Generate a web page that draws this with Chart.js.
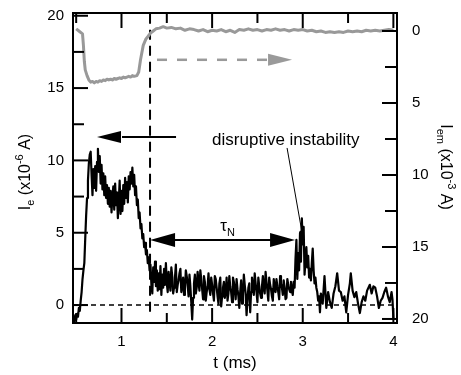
<!DOCTYPE html>
<html><head><meta charset="utf-8">
<script src="https://cdn.jsdelivr.net/npm/chart.js@4"></script>
<style>html,body{margin:0;padding:0;background:#fff;}#wrap{width:461px;height:375px;}</style>
</head><body><div id="wrap"><canvas id="c" width="461" height="375"></canvas></div>
<script>
// ---- data: [t (ms), I_e (x10^-6 A)] ----
const ieSeries = [
[0.47,-0.9],[0.48,-1.1],[0.49,-0.7],[0.50,-1.0],[0.51,-0.6],[0.52,-0.8],[0.53,-0.2],[0.54,-0.4],[0.55,0.3],[0.56,0.9],
[0.57,1.8],[0.58,2.4],[0.59,2.9],[0.60,4.6],[0.61,6.2],[0.62,7.4],[0.63,8.6],[0.64,9.8],[0.65,10.4],[0.66,10.6],
[0.67,9.0],[0.68,7.6],[0.69,9.4],[0.70,8.1],[0.71,9.6],[0.72,7.9],[0.73,9.9],[0.74,10.8],[0.75,9.2],[0.76,10.3],
[0.77,8.4],[0.78,9.7],[0.79,8.0],[0.80,9.1],[0.81,7.6],[0.82,8.9],[0.83,7.4],[0.84,8.3],[0.85,7.0],[0.86,8.1],
[0.87,6.8],[0.88,7.9],[0.89,6.4],[0.90,7.5],[0.91,8.2],[0.92,6.6],[0.93,8.4],[0.94,6.9],[0.95,7.8],[0.96,6.0],
[0.97,7.2],[0.98,8.6],[0.99,6.3],[1.00,7.9],[1.01,6.5],[1.02,8.3],[1.03,7.0],[1.04,8.8],[1.05,7.4],[1.06,8.5],
[1.07,7.1],[1.08,8.9],[1.09,8.0],[1.10,9.2],[1.11,8.4],[1.12,9.5],[1.13,8.2],[1.14,9.0],[1.15,7.6],[1.16,8.2],
[1.17,6.9],[1.18,7.3],[1.19,6.0],[1.20,6.4],[1.21,5.3],[1.22,5.6],[1.23,4.6],[1.24,4.9],[1.25,4.0],[1.26,4.3],
[1.27,3.5],[1.28,3.8],[1.29,2.9],[1.30,3.3],[1.31,2.4],[1.32,2.8],[1.33,1.4],[1.34,0.8],[1.35,2.6],[1.36,1.6],
[1.37,3.0],[1.38,1.3],[1.39,2.4],[1.40,1.0],[1.41,2.2],[1.42,1.1],[1.43,2.7],[1.44,0.7],[1.45,2.1],[1.46,1.2],
[1.47,2.5],[1.48,1.4],[1.49,2.9],[1.50,1.5],[1.51,0.9],[1.52,2.3],[1.53,1.6],[1.54,1.0],[1.55,2.6],[1.56,2.0],
[1.57,0.8],[1.58,1.2],[1.59,1.9],[1.60,2.8],[1.61,0.9],[1.62,1.4],[1.63,1.7],[1.64,2.2],[1.65,2.5],[1.66,0.9],
[1.67,1.3],[1.68,1.9],[1.69,0.7],[1.70,1.1],[1.71,2.4],[1.72,2.0],[1.73,1.4],[1.74,0.6],[1.75,2.1],[1.76,1.3],
[1.77,0.2],[1.78,-1.0],[1.79,0.5],[1.80,1.5],[1.81,2.1],[1.82,0.8],[1.83,1.2],[1.84,2.3],[1.85,1.6],[1.86,1.0],
[1.87,2.4],[1.88,1.8],[1.89,1.1],[1.90,0.4],[1.91,2.0],[1.92,1.6],[1.93,0.3],[1.94,0.9],[1.95,1.3],[1.96,2.2],
[1.97,1.1],[1.98,0.7],[1.99,1.9],[2.00,1.4],[2.01,0.8],[2.02,0.3],[2.03,2.0],[2.04,1.8],[2.05,1.2],[2.06,0.6],
[2.07,0.1],[2.08,1.5],[2.09,1.9],[2.10,-0.1],[2.11,0.6],[2.12,1.2],[2.13,1.6],[2.14,0.5],[2.15,0.9],[2.16,1.9],
[2.17,0.3],[2.18,0.8],[2.19,2.0],[2.20,1.3],[2.21,0.9],[2.22,0.2],[2.23,1.9],[2.24,1.6],[2.25,1.0],[2.26,0.4],
[2.27,1.8],[2.28,1.1],[2.29,0.6],[2.30,-0.2],[2.31,0.9],[2.32,1.7],[2.33,0.1],[2.34,0.6],[2.35,2.1],[2.36,1.4],
[2.37,0.8],[2.38,-0.7],[2.39,0.3],[2.40,1.2],[2.41,1.5],[2.42,-0.5],[2.43,0.9],[2.44,1.9],[2.45,1.2],[2.46,0.7],
[2.47,2.2],[2.48,1.5],[2.49,0.9],[2.50,0.2],[2.51,1.9],[2.52,1.3],[2.53,0.8],[2.54,0.5],[2.55,1.3],[2.56,2.0],
[2.57,1.1],[2.58,0.8],[2.59,2.3],[2.60,1.6],[2.61,1.0],[2.62,0.3],[2.63,1.9],[2.64,1.4],[2.65,1.1],[2.66,0.6],
[2.67,0.3],[2.68,1.8],[2.69,1.2],[2.70,0.9],[2.71,1.8],[2.72,1.3],[2.73,0.9],[2.74,0.4],[2.75,2.0],[2.76,1.5],
[2.77,1.2],[2.78,0.7],[2.79,1.7],[2.80,1.2],[2.81,0.4],[2.82,0.5],[2.83,1.8],[2.84,1.4],[2.85,1.1],[2.86,0.9],
[2.87,1.6],[2.88,1.0],[2.89,0.7],[2.90,1.6],[2.91,1.2],[2.92,3.2],[2.93,4.5],[2.94,1.8],[2.95,3.6],[2.96,2.4],
[2.97,5.0],[2.98,3.0],[2.99,6.0],[3.00,4.2],[3.01,5.4],[3.02,2.1],[3.03,3.0],[3.04,4.0],[3.05,2.6],[3.06,3.4],
[3.07,1.9],[3.08,2.5],[3.09,1.7],[3.10,2.9],[3.11,3.9],[3.12,2.4],[3.13,1.5],[3.14,1.9],[3.15,1.2],[3.16,0.9],
[3.17,0.3],[3.18,0.6],[3.19,-0.5],[3.20,0.8],[3.22,0.1],[3.24,2.0],[3.26,-0.2],[3.28,0.9],[3.30,0.2],[3.32,-0.2],
[3.34,0.8],[3.36,1.3],[3.38,2.2],[3.40,1.0],[3.42,0.9],[3.44,0.3],[3.46,0.6],[3.48,-0.5],[3.50,0.7],[3.52,1.5],
[3.53,2.2],[3.55,1.0],[3.57,0.55],[3.59,0.9],[3.61,0.1],[3.63,-0.55],[3.65,0.2],[3.67,0.6],[3.69,0.3],[3.71,1.0],
[3.74,1.4],[3.76,0.8],[3.78,1.3],[3.80,1.2],[3.82,0.6],[3.84,-0.2],[3.86,0.3],[3.88,0.5],[3.90,0.9],[3.92,1.2],
[3.94,0.6],[3.96,0.2],[3.98,0.9],[3.99,0.4],[4.00,-0.9]
];
// ---- data: [t (ms), I_em (x10^-3 A)] ----
const iemSeries = [
[0.50,-0.15],[0.52,-0.05],[0.54,0.05],[0.56,0.15],[0.57,0.2],[0.58,1.0],[0.59,2.1],[0.60,2.7],[0.62,3.1],[0.64,3.4],
[0.66,3.55],[0.68,3.5],[0.70,3.6],[0.72,3.5],[0.74,3.55],[0.76,3.45],[0.78,3.5],[0.80,3.4],[0.82,3.45],[0.84,3.35],
[0.86,3.4],[0.88,3.35],[0.90,3.4],[0.92,3.3],[0.94,3.35],[0.96,3.3],[0.98,3.25],[1.00,3.3],[1.02,3.2],[1.04,3.25],
[1.06,3.2],[1.08,3.15],[1.10,3.2],[1.12,3.1],[1.14,3.15],[1.17,3.1],[1.19,2.85],[1.21,2.0],[1.24,1.0],[1.27,0.55],
[1.29,0.4],[1.32,0.15],[1.35,0.0],[1.38,-0.15],[1.42,-0.2],[1.46,-0.3],[1.50,-0.2],[1.55,-0.25],[1.60,-0.15],[1.65,-0.2],
[1.70,-0.05],[1.75,-0.15],[1.80,-0.1],[1.85,0.0],[1.90,-0.1],[1.95,0.05],[2.00,-0.05],[2.05,0.0],[2.10,-0.1],[2.15,0.05],
[2.20,-0.05],[2.25,0.1],[2.30,-0.1],[2.35,-0.05],[2.40,-0.15],[2.45,-0.05],[2.50,-0.1],[2.55,0.0],[2.60,-0.1],[2.65,-0.05],
[2.70,-0.15],[2.75,-0.05],[2.80,-0.1],[2.85,0.0],[2.90,-0.1],[2.95,-0.05],[3.00,-0.1],[3.05,0.0],[3.10,-0.05],[3.15,0.05],
[3.20,0.0],[3.25,0.1],[3.30,0.05],[3.35,0.1],[3.40,0.05],[3.45,0.1],[3.50,0.0],[3.55,0.05],[3.60,0.0],[3.65,0.05],
[3.70,-0.05],[3.75,0.0],[3.80,-0.05],[3.85,0.0],[3.90,-0.05],[3.95,-0.1],[4.00,-0.05]
];
const xMajor = [1,2,3,4];
const xMinor = [0.5,1.5,2.5,3.5];
const leftMajor = [0,5,10,15,20];
const leftMinor = [2.5,7.5,12.5,17.5];
const rightMajor = [0,5,10,15,20];
const rightMinor = [2.5,7.5,12.5,17.5];
const tMarker = 1.315;   // vertical dashed line (time, ms)
const zeroLevel = 0;

// ---- annotation placement (data coordinates) ----
const ann = {
  blackArrow: {x1:1.602, x2:0.73, y:11.62},
  grayArrow: {x1:1.392, x2:2.882, y2v:2.0},
  tauArrow: {x1:1.315, x2:2.915, y:4.5},
  tau: {x:2.09, y:5.12},
  label: {x:2.0, y:11.07},
  pointer: {x1:2.827, y1:10.86, x2:3.004, y2:4.6}
};

const FONT = "'Liberation Sans', Arial, sans-serif";

function arrowHead(ctx, x1, y1, x2, y2, len, half){
  const ang = Math.atan2(y2-y1, x2-x1);
  const bx = x2 - len*Math.cos(ang), by = y2 - len*Math.sin(ang);
  ctx.beginPath(); ctx.moveTo(x2,y2);
  ctx.lineTo(bx + half*Math.sin(ang), by - half*Math.cos(ang));
  ctx.lineTo(bx - half*Math.sin(ang), by + half*Math.cos(ang));
  ctx.closePath(); ctx.fill();
  return [bx, by];
}
function line(ctx,x1,y1,x2,y2){ctx.beginPath();ctx.moveTo(x1,y1);ctx.lineTo(x2,y2);ctx.stroke();}
function richWidth(ctx, segs){
  let w=0; segs.forEach(s=>{ctx.font=s.s+'px '+FONT; w+=ctx.measureText(s.t).width;}); return w;
}
function richDraw(ctx, segs, u0){
  let u=u0; segs.forEach(s=>{ctx.font=s.s+'px '+FONT; ctx.fillText(s.t,u,s.dy); u+=ctx.measureText(s.t).width;});
}

const decor = {
  id:'decor',
  afterDraw(chart){
    const {ctx, chartArea:a, scales:{x,y,y2}} = chart;
    ctx.save();
    ctx.strokeStyle='#000'; ctx.fillStyle='#000'; ctx.lineWidth=2; ctx.setLineDash([]);
    ctx.lineCap='butt';
    ctx.strokeRect(a.left, a.top, a.right-a.left, a.bottom-a.top);
    xMajor.forEach(v=>{const p=x.getPixelForValue(v); line(ctx,p,a.bottom,p,a.bottom-15); line(ctx,p,a.top,p,a.top+15);});
    xMinor.forEach(v=>{const p=x.getPixelForValue(v); line(ctx,p,a.bottom,p,a.bottom-10); line(ctx,p,a.top,p,a.top+10);});
    leftMajor.forEach(v=>{const p=y.getPixelForValue(v); line(ctx,a.left,p,a.left+15,p);});
    leftMinor.forEach(v=>{const p=y.getPixelForValue(v); line(ctx,a.left,p,a.left+11,p);});
    rightMajor.forEach(v=>{const p=y2.getPixelForValue(v); line(ctx,a.right,p,a.right-15,p);});
    rightMinor.forEach(v=>{const p=y2.getPixelForValue(v); line(ctx,a.right,p,a.right-12,p);});

    // black arrow (points to left axis)
    {
      const py=y.getPixelForValue(ann.blackArrow.y), x1=x.getPixelForValue(ann.blackArrow.x1), x2=x.getPixelForValue(ann.blackArrow.x2);
      ctx.lineWidth=2; const [bx]=arrowHead(ctx,x1,py,x2,py,24,6); line(ctx,x1,py,bx+1,py);
    }
    // gray dashed arrow (points to right axis)
    {
      const py=y2.getPixelForValue(ann.grayArrow.y2v), x1=x.getPixelForValue(ann.grayArrow.x1), x2=x.getPixelForValue(ann.grayArrow.x2);
      ctx.strokeStyle='#9a9a9a'; ctx.fillStyle='#9a9a9a'; ctx.lineWidth=2.5;
      const [bx]=arrowHead(ctx,x1,py,x2,py,24,6);
      ctx.setLineDash([10,10]); line(ctx,x1,py,bx,py); ctx.setLineDash([]);
    }
    // tau double arrow
    {
      ctx.strokeStyle='#000'; ctx.fillStyle='#000'; ctx.lineWidth=2;
      const py=y.getPixelForValue(ann.tauArrow.y), x1=x.getPixelForValue(ann.tauArrow.x1), x2=x.getPixelForValue(ann.tauArrow.x2);
      const [b2]=arrowHead(ctx,x1,py,x2,py,25,7);
      const [b1]=arrowHead(ctx,x2,py,x1,py,25,7);
      line(ctx,b1-1,py,b2+1,py);
    }
    // tau_N label
    {
      const px=x.getPixelForValue(ann.tau.x), py=y.getPixelForValue(ann.tau.y);
      ctx.textBaseline='alphabetic'; ctx.textAlign='left';
      ctx.font='17px '+FONT; ctx.fillText('τ',px,py);
      const w=ctx.measureText('τ').width;
      ctx.font='11px '+FONT; ctx.fillText('N',px+w,py+5);
    }
    // disruptive instability
    {
      const px=x.getPixelForValue(ann.label.x), py=y.getPixelForValue(ann.label.y);
      ctx.font='17px '+FONT; ctx.fillText('disruptive instability',px,py);
      const x1=x.getPixelForValue(ann.pointer.x1), y1=y.getPixelForValue(ann.pointer.y1);
      const x2=x.getPixelForValue(ann.pointer.x2), y2p=y.getPixelForValue(ann.pointer.y2);
      ctx.lineWidth=1; const [bx,by]=arrowHead(ctx,x1,y1,x2,y2p,8,2.5); line(ctx,x1,y1,bx,by);
    }
    // axis titles
    ctx.fillStyle='#000';
    {
      const segs=[{t:'I',s:16,dy:0},{t:'e',s:11,dy:4},{t:' (x10',s:16,dy:0},{t:'-6',s:11,dy:-7},{t:' A)',s:16,dy:0}];
      const w=richWidth(ctx,segs);
      ctx.save(); ctx.translate(30,(a.top+a.bottom)/2+4); ctx.rotate(-Math.PI/2);
      richDraw(ctx,segs,-w/2); ctx.restore();
    }
    {
      const segs=[{t:'I',s:16,dy:0},{t:'em',s:11,dy:4},{t:' (x10',s:16,dy:0},{t:'-3',s:11,dy:-7},{t:' A)',s:16,dy:0}];
      const w=richWidth(ctx,segs);
      ctx.save(); ctx.translate(441,(a.top+a.bottom)/2-1); ctx.rotate(Math.PI/2);
      richDraw(ctx,segs,-w/2); ctx.restore();
    }
    ctx.restore();
  }
};

const noPad = s => { s.paddingTop=0; s.paddingBottom=0; s.paddingLeft=0; s.paddingRight=0; };
const tickFont = {family:FONT, size:15};
new Chart(document.getElementById('c'), {
  type:'line',
  data:{datasets:[
    {data:iemSeries.map(p=>({x:p[0],y:p[1]})), yAxisID:'y2', borderColor:'#999999', borderWidth:3, pointRadius:0, tension:0, borderJoinStyle:'round'},
    {data:ieSeries.map(p=>({x:p[0],y:p[1]})), yAxisID:'y', borderColor:'#000000', borderWidth:2.2, pointRadius:0, tension:0, borderJoinStyle:'round'},
    {data:[{x:0.465,y:zeroLevel},{x:4.04,y:zeroLevel}], yAxisID:'y', borderColor:'#000', borderWidth:1.6, borderDash:[5,4], pointRadius:0},
    {data:[{x:tMarker,y:-0.47},{x:tMarker,y:20.19}], yAxisID:'y', borderColor:'#000', borderWidth:2, borderDash:[10,6], pointRadius:0}
  ]},
  options:{
    responsive:false, animation:false, devicePixelRatio:1,
    layout:{padding:{top:13,left:0,right:0,bottom:0}},
    plugins:{legend:{display:false}, tooltip:{enabled:false}},
    scales:{
      x:{type:'linear', position:'bottom', min:0.465, max:4.04,
        afterBuildTicks:s=>{s.ticks=xMajor.map(v=>({value:v}));},
        afterFit:s=>{s.height=52; noPad(s);},
        grid:{display:false, drawTicks:false}, border:{display:false},
        ticks:{font:tickFont, color:'#000', padding:10, maxRotation:0, autoSkip:false},
        title:{display:true, text:'t (ms)', font:{family:FONT,size:17}, color:'#000', padding:{top:0,bottom:1}}},
      y:{type:'linear', position:'left', min:-1.24, max:20.19,
        afterBuildTicks:s=>{s.ticks=leftMajor.map(v=>({value:v}));},
        afterFit:s=>{s.width=73; noPad(s);},
        grid:{display:false, drawTicks:false}, border:{display:false},
        ticks:{font:tickFont, color:'#000', padding:9}},
      y2:{type:'linear', position:'right', reverse:true, min:-1.25, max:20.28,
        afterBuildTicks:s=>{s.ticks=rightMajor.map(v=>({value:v}));},
        afterFit:s=>{s.width=64; noPad(s);},
        grid:{display:false, drawTicks:false}, border:{display:false},
        ticks:{font:tickFont, color:'#000', padding:15}}
    }
  },
  plugins:[decor]
});
</script></body></html>
